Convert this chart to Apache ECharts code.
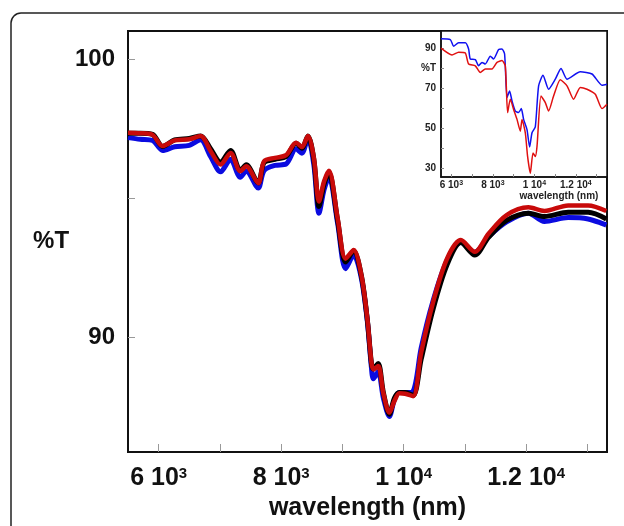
<!DOCTYPE html>
<html>
<head>
<meta charset="utf-8">
<script src="https://cdn.jsdelivr.net/npm/echarts@6/dist/echarts.min.js"></script>
<style>
    html, body { margin: 0; padding: 0; background: #fff; }
    #chart { width: 624px; height: 526px; }
</style>
</head>
<body>
<div id="chart"></div>
<script>
// main plot: wavelength (nm) and %T of the three samples
var wl = [5500, 5700, 5900, 6066, 6261, 6500, 6685, 6848, 7011, 7174, 7333, 7430, 7626, 7722, 7900, 8080, 8243, 8339, 8437, 8534, 8618, 8700, 8781, 8922, 9053, 9183, 9311, 9408, 9474, 9506, 9584, 9669, 9767, 9850, 9930, 10026, 10155, 10286, 10480, 10708, 10935, 11161, 11389, 11681, 12037, 12298, 12686, 13012, 13309];
var blackT = [97.34, 97.34, 97.3, 96.86, 97.1, 97.15, 97.24, 96.78, 96.3, 96.72, 96.0, 96.2, 95.55, 96.28, 96.4, 96.5, 96.98, 96.8, 97.24, 96.4, 94.7, 95.5, 95.92, 94.2, 92.7, 93.1, 92.2, 90.6, 89.05, 88.85, 89.05, 88.0, 87.22, 87.8, 88.0, 88.0, 87.9, 89.2, 91.0, 92.6, 93.4, 92.95, 93.6, 94.2, 94.46, 94.34, 94.49, 94.49, 94.25];
var blueT = [97.18, 97.12, 97.08, 96.72, 96.85, 96.9, 97.1, 96.5, 95.95, 96.4, 95.75, 95.98, 95.37, 96.0, 96.18, 96.23, 96.78, 96.62, 97.15, 96.2, 94.46, 95.3, 95.77, 94.1, 92.46, 92.95, 92.1, 90.55, 88.9, 88.5, 88.75, 87.8, 87.14, 87.75, 88.0, 88.0, 88.05, 89.6, 91.3, 92.75, 93.4, 93.05, 93.62, 94.15, 94.46, 94.16, 94.3, 94.25, 94.03];
var redT = [97.36, 97.34, 97.28, 96.88, 97.08, 97.12, 97.24, 96.7, 96.21, 96.63, 95.97, 96.15, 95.54, 96.33, 96.45, 96.55, 97.0, 96.84, 97.24, 96.45, 94.88, 95.6, 95.99, 94.28, 92.82, 93.13, 92.22, 90.65, 89.08, 88.83, 88.96, 87.98, 87.28, 87.7, 87.98, 87.96, 87.87, 89.44, 91.25, 92.82, 93.49, 93.07, 93.73, 94.39, 94.67, 94.54, 94.74, 94.74, 94.54];

// inset
var insetWlBlue = [5500, 5948, 6107, 6348, 6671, 6830, 6912, 7153, 7312, 7476, 7635, 7876, 8035, 8276, 8440, 8565, 8681, 8806, 8922, 9081, 9240, 9370, 9481, 9645, 9770, 9886, 10045, 10204, 10416, 10686, 11008, 11283, 11572, 12213, 12777, 13259, 13500];
var insetBlue = [94.7, 94.3, 91.0, 92.7, 92.7, 89.6, 84.6, 84.3, 81.2, 82.9, 82.1, 86.0, 84.6, 89.3, 89.6, 87.1, 65.3, 68.6, 63.6, 58.6, 57.8, 59.8, 54.4, 49.3, 40.6, 47.7, 50.7, 71.2, 76.5, 69.5, 74.5, 79.9, 74.5, 78.2, 77.1, 71.5, 72.0];
var insetWlRed = [5500, 6030, 6348, 6671, 6830, 7153, 7394, 7635, 7958, 8199, 8440, 8599, 8710, 8840, 8999, 9163, 9322, 9404, 9563, 9673, 9804, 9934, 10045, 10127, 10319, 10527, 10686, 10926, 11249, 11572, 11890, 12213, 12536, 12936, 13259, 13500];
var insetRed = [90.0, 86.6, 88.0, 87.6, 82.1, 81.2, 77.9, 79.6, 79.6, 82.9, 83.8, 81.2, 57.8, 64.5, 59.4, 54.4, 48.5, 54.4, 47.7, 35.9, 27.5, 37.6, 35.9, 40.9, 66.1, 62.8, 58.6, 66.1, 74.2, 71.2, 64.5, 70.4, 69.5, 67.0, 59.8, 62.0];

// ticks
var xTicks = [6000, 7000, 8000, 9000, 10000, 11000, 12000, 13000];
var xLabels = [6000, 8000, 10000, 12000];
var yTicks = [90, 95, 100];
var yLabels = [90, 100];
var insetYTicks = [30, 40, 50, 60, 70, 80, 90];
var insetYLabels = [30, 50, 70, 80, 90];

var FONT = "'Liberation Sans', Arial, sans-serif";

function pairs(xs, ys) {
    return xs.map(function (x, i) { return [x, ys[i]]; });
}

// 6000 -> "6 10^3"
function sciLabel(v) {
    var e = Math.floor(Math.log10(v) + 1e-9);
    var m = Math.round(v / Math.pow(10, e) * 10) / 10;
    return '{b|' + m + ' 10}{s|' + e + '}';
}

var chart = echarts.init(document.getElementById('chart'));
var option = {
    animation: false,
    backgroundColor: '#fff',
    graphic: [{
        type: 'rect',
        shape: { x: 11, y: 13, width: 700, height: 620, r: 10 },
        style: { fill: 'none', stroke: '#222', lineWidth: 1.5 },
        z: 0
    }],
    grid: [{
        left: 128, top: 31, right: 17, bottom: 74,
        show: true, borderColor: '#111', borderWidth: 2, backgroundColor: 'transparent'
    }, {
        left: 441, top: 31, right: 17, bottom: 349,
        show: true, borderColor: '#111', borderWidth: 1.5, backgroundColor: '#fff', z: 5
    }],
    xAxis: [{
        type: 'value', gridIndex: 0, min: 5500, max: 13320,
        name: 'wavelength (nm)', nameLocation: 'middle', nameGap: 42,
        nameTextStyle: { fontFamily: FONT, fontWeight: 'bold', fontSize: 25, color: '#111' },
        axisLine: { show: true, onZero: false, lineStyle: { color: '#111', width: 2 } },
        axisTick: { show: true, inside: true, length: 8, customValues: xTicks, lineStyle: { color: '#999', width: 1 } },
        axisLabel: {
            customValues: xLabels, margin: 14, formatter: sciLabel,
            rich: {
                b: { fontFamily: FONT, fontWeight: 'bold', fontSize: 25, color: '#111' },
                s: { fontFamily: FONT, fontWeight: 'bold', fontSize: 15, color: '#111', verticalAlign: 'top', padding: [0, 0, 4, 0] }
            }
        },
        splitLine: { show: false }
    }, {
        type: 'value', gridIndex: 1, min: 5500, max: 13500, z: 7,
        name: 'wavelength (nm)', nameLocation: 'middle', nameGap: 12,
        nameTextStyle: { fontFamily: FONT, fontWeight: 'bold', fontSize: 10, color: '#222', padding: [0, 0, 0, 70] },
        axisLine: { show: true, onZero: false, lineStyle: { color: '#111', width: 1.5 } },
        axisTick: { show: true, inside: true, length: 3, customValues: xTicks, lineStyle: { color: '#888' } },
        axisLabel: {
            customValues: xLabels, margin: 3, formatter: sciLabel,
            rich: {
                b: { fontFamily: FONT, fontWeight: 'bold', fontSize: 10, color: '#222' },
                s: { fontFamily: FONT, fontWeight: 'bold', fontSize: 7, color: '#222', verticalAlign: 'top' }
            }
        },
        splitLine: { show: false }
    }],
    yAxis: [{
        type: 'value', gridIndex: 0, min: 85.86, max: 101.02,
        name: '%T', nameLocation: 'middle', nameRotate: 0, nameGap: 56,
        nameTextStyle: { fontFamily: FONT, fontWeight: 'bold', fontSize: 24, color: '#111' },
        axisLine: { show: true, onZero: false, lineStyle: { color: '#111', width: 2 } },
        axisTick: { show: true, inside: true, length: 7, customValues: yTicks, lineStyle: { color: '#999', width: 1 } },
        axisLabel: { customValues: yLabels, margin: 13, fontFamily: FONT, fontWeight: 'bold', fontSize: 24, color: '#111' },
        splitLine: { show: false }
    }, {
        type: 'value', gridIndex: 1, min: 25.6, max: 98.6, z: 7,
        axisLine: { show: true, onZero: false, lineStyle: { color: '#111', width: 1.5 } },
        axisTick: { show: true, inside: true, length: 3, customValues: insetYTicks, lineStyle: { color: '#888' } },
        axisLabel: {
            customValues: insetYLabels, margin: 5, fontFamily: FONT, fontWeight: 'bold', fontSize: 10, color: '#222',
            formatter: function (v) { return v == 80 ? '%T' : String(v); }
        },
        splitLine: { show: false }
    }],
    series: [{
        name: 'blue', type: 'line', xAxisIndex: 0, yAxisIndex: 0, data: pairs(wl, blueT),
        smooth: 0.3, showSymbol: false, lineStyle: { color: '#0b0be0', width: 5 }, z: 2
    }, {
        name: 'black', type: 'line', xAxisIndex: 0, yAxisIndex: 0, data: pairs(wl, blackT),
        smooth: 0.3, showSymbol: false, lineStyle: { color: '#000', width: 5 }, z: 3
    }, {
        name: 'red', type: 'line', xAxisIndex: 0, yAxisIndex: 0, data: pairs(wl, redT),
        smooth: 0.3, showSymbol: false, lineStyle: { color: '#c80a0a', width: 4.5 }, z: 4
    }, {
        name: 'insetBlue', type: 'line', xAxisIndex: 1, yAxisIndex: 1, data: pairs(insetWlBlue, insetBlue),
        smooth: 0.2, showSymbol: false, lineStyle: { color: '#1010f0', width: 1.5 }, z: 8
    }, {
        name: 'insetRed', type: 'line', xAxisIndex: 1, yAxisIndex: 1, data: pairs(insetWlRed, insetRed),
        smooth: 0.2, showSymbol: false, lineStyle: { color: '#e01010', width: 1.5 }, z: 8
    }]
};
chart.setOption(option);
</script>
</body>
</html>
